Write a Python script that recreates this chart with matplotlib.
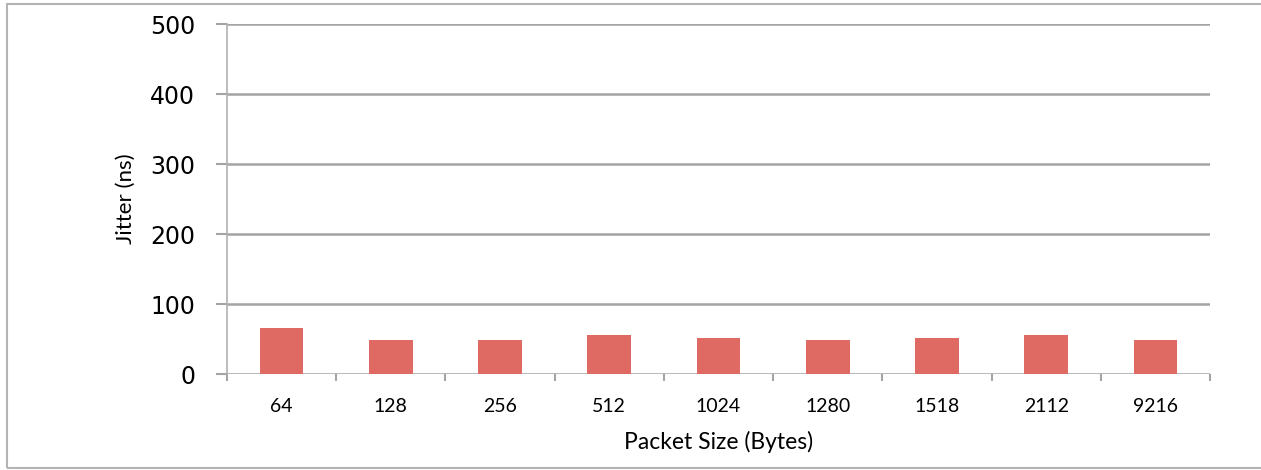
import matplotlib
matplotlib.use("Agg")
import matplotlib.pyplot as plt
from matplotlib.patches import Rectangle
import numpy as np

# Dados
packet_sizes = ["64", "128", "256", "512", "1024", "1280", "1518", "2112", "9216"]
jitter_ns = [66, 48, 48, 56, 51, 48, 51, 56, 48]
y_ticks = [0, 100, 200, 300, 400, 500]

W, H = 1261, 470
fig = plt.figure(figsize=(W / 100, H / 100), dpi=100)

# moldura externa
fig.patches.append(Rectangle((7 / W, 2 / H), 1.2, 464 / H, transform=fig.transFigure,
                             fill=False, edgecolor="#b4b4b4", linewidth=1.5))

ax = fig.add_axes([227 / W, 1 - 374 / H, (1210 - 227) / W, (374 - 24) / H])

x = np.arange(len(packet_sizes))
ax.bar(x, jitter_ns, width=0.4, color="#df6a64", zorder=3)

ax.set_xlim(-0.5, len(packet_sizes) - 0.5)
ax.set_ylim(0, 500)
ax.set_yticks(y_ticks)
ax.set_yticklabels([str(v) for v in y_ticks], fontsize=17, family="DejaVu Sans")
ax.set_xticks(x)
ax.set_xticklabels(packet_sizes, fontsize=14, family="Lato")
ax.set_xticks(np.arange(len(packet_sizes) + 1) - 0.5, minor=True)

grid_color = "#a4a4a4"
for v in y_ticks:
    ax.axhline(v, color=grid_color, linewidth=1.8, zorder=1)

ax.tick_params(axis="y", direction="out", length=8, width=1.5, color=grid_color, pad=15)
ax.tick_params(axis="x", which="major", length=0, pad=17)
ax.tick_params(axis="x", which="minor", direction="out", length=5, width=1.5, color=grid_color)

for side in ["top", "right", "bottom"]:
    ax.spines[side].set_visible(False)
ax.spines["left"].set_color("#b0b0b0")
ax.spines["left"].set_linewidth(1.2)

ax.set_xlabel("Packet Size (Bytes)", fontsize=16.5, family="Lato", labelpad=12)
ax.set_ylabel("Jitter (ns)", fontsize=16, family="Lato", labelpad=10)

fig.savefig("out.png", dpi=100)
